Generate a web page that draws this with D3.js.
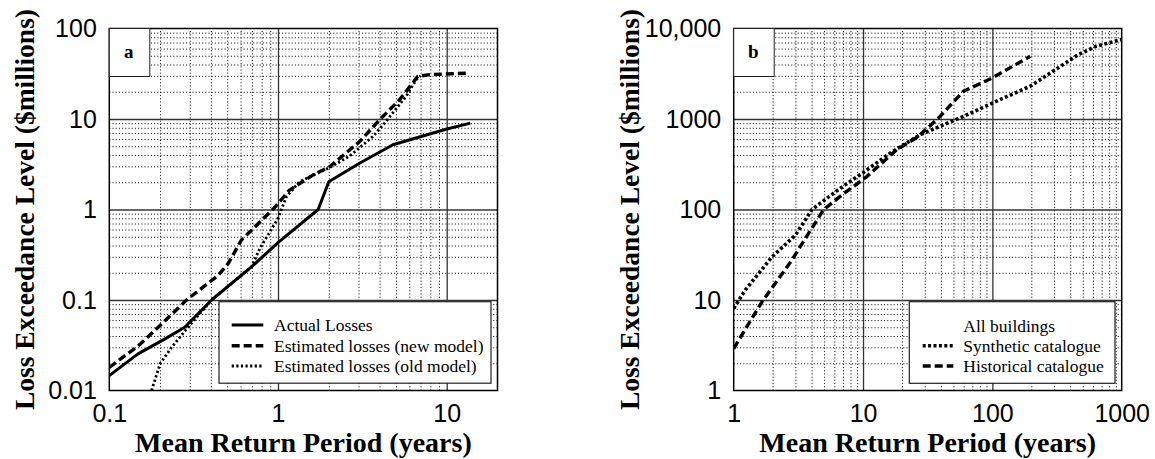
<!DOCTYPE html>
<html>
<head>
<meta charset="utf-8">
<script src="https://cdn.jsdelivr.net/npm/d3@7"></script>
<style>
  body { margin: 0; background: #fff; }
  svg { font-family: "Liberation Serif", "Times New Roman", serif; }
</style>
</head>
<body>
<svg width="1155" height="459"></svg>
<script>
// ---- panel a data (mean return period in years, loss in $ millions)
const actualLosses = [[0.1, 0.0146], [0.148, 0.0254], [0.214, 0.0372], [0.28, 0.05], [0.404, 0.1],
  [0.696, 0.232], [1.0, 0.43], [1.73, 1.0], [2.0, 2.03], [3.04, 3.24], [4.8, 5.2], [9.9, 7.7], [13.8, 9.0]];
const newModelLosses = [[0.1, 0.018], [0.148, 0.031], [0.195, 0.05], [0.287, 0.1], [0.442, 0.187],
  [0.506, 0.252], [0.607, 0.46], [0.955, 1.05], [1.17, 1.64], [1.61, 2.4], [2.02, 2.97], [3.04, 5.6],
  [4.0, 9.8], [5.25, 16.3], [6.74, 29.6], [7.9, 30.9], [13.6, 32.2]];
const oldModelLosses = [[0.178, 0.01], [0.2, 0.0197], [0.234, 0.03], [0.293, 0.05], [0.404, 0.1],
  [0.696, 0.232], [0.78, 0.37], [1.0, 0.8], [1.12, 1.38], [1.34, 2.03], [2.02, 2.9], [2.66, 3.9],
  [3.65, 6.4], [4.28, 9.0], [5.75, 17.8], [6.59, 27.2], [7.0, 30]];

// ---- panel b data
const syntheticCatalogue = [[1, 8.07], [1.23, 12.9], [1.98, 30], [3.0, 52], [4.03, 100], [6.68, 172],
  [10, 255], [16.2, 420], [27.6, 670], [59.7, 1069], [100, 1500], [196, 2300], [462, 5150],
  [635, 6370], [1000, 7550]];
const historicalCatalogue = [[1, 2.91], [1.65, 9.5], [2.82, 27.7], [3.8, 54.7], [4.97, 100], [6.88, 145],
  [10.7, 231], [18.2, 457], [26.8, 641], [39.4, 1069], [59.7, 2023], [100, 2844], [196, 4930]];

// ---- ticks
const xTicksA = [0.1, 1, 10];
const yTicksA = [0.01, 0.1, 1, 10, 100];
const yLabelsA = ["0.01", "0.1", "1", "10", "100"];
const xTicksB = [1, 10, 100, 1000];
const yTicksB = [1, 10, 100, 1000, 10000];
const yLabelsB = ["1", "10", "100", "1000", "10,000"];

const legendNamesA = ["Actual Losses", "Estimated losses (new model)", "Estimated losses (old model)"];
const legendNamesB = ["Synthetic catalogue", "Historical catalogue"];

const svg = d3.select("svg");

const plotTop = 28.5, plotBottom = 390.5;

const xA = d3.scaleLog().domain([0.1, 20]).range([109.3, 497.5]);
const yA = d3.scaleLog().domain([0.01, 100]).range([plotBottom, plotTop]);
const xB = d3.scaleLog().domain([1, 1000]).range([733.7, 1121.7]);
const yB = d3.scaleLog().domain([1, 10000]).range([plotBottom, plotTop]);

const solid = { width: 3, dash: null };
const dashed = { width: 3.4, dash: "8,4" };
const dottedA = { width: 2.8, dash: "2.2,2.4" };
const dottedB = { width: 3.6, dash: "3,2.4" };

// minor values 2..9 of each decade inside the domain
function minorTicks(scale) {
  const [lo, hi] = scale.domain();
  let out = [];
  for (let p = Math.floor(Math.log10(lo)); p <= Math.ceil(Math.log10(hi)); p++) {
    for (let m = 2; m <= 9; m++) {
      const v = m * Math.pow(10, p);
      if (v > lo * 1.0001 && v < hi * 0.9999) out.push(v);
    }
  }
  return out;
}
function majorTicks(scale) {
  const [lo, hi] = scale.domain();
  let out = [];
  for (let p = Math.ceil(Math.log10(lo)); p <= Math.floor(Math.log10(hi)); p++) {
    const v = Math.pow(10, p);
    if (v > lo * 1.0001 && v < hi * 0.9999) out.push(v);
  }
  return out;
}

function drawPanel(cfg) {
  const x = cfg.x, y = cfg.y;
  const x0 = x.range()[0], x1 = x.range()[1];
  const w = x1 - x0, h = plotBottom - plotTop;
  const g = svg.append("g");

  // minor grid
  g.append("g")
    .attr("transform", "translate(0," + plotBottom + ")")
    .call(d3.axisBottom(x).tickValues(minorTicks(x)).tickSize(-h).tickFormat(""))
    .call(s => s.select(".domain").remove())
    .selectAll("line")
    .attr("stroke", "#000").attr("stroke-width", 1).attr("stroke-dasharray", "1,2.2");
  g.append("g")
    .attr("transform", "translate(" + x0 + ",0)")
    .call(d3.axisLeft(y).tickValues(minorTicks(y)).tickSize(-w).tickFormat(""))
    .call(s => s.select(".domain").remove())
    .selectAll("line")
    .attr("stroke", "#000").attr("stroke-width", 1).attr("stroke-dasharray", "1,2.2");

  // major grid
  g.append("g")
    .attr("transform", "translate(0," + plotBottom + ")")
    .call(d3.axisBottom(x).tickValues(majorTicks(x)).tickSize(-h).tickFormat(""))
    .call(s => s.select(".domain").remove())
    .selectAll("line").attr("stroke", "#333").attr("stroke-width", 1.3);
  g.append("g")
    .attr("transform", "translate(" + x0 + ",0)")
    .call(d3.axisLeft(y).tickValues(majorTicks(y)).tickSize(-w).tickFormat(""))
    .call(s => s.select(".domain").remove())
    .selectAll("line").attr("stroke", "#333").attr("stroke-width", 1.3);

  // tick labels
  g.append("g")
    .attr("transform", "translate(0," + plotBottom + ")")
    .call(d3.axisBottom(x).tickValues(cfg.xTicks).tickSize(0).tickPadding(14)
      .tickFormat(d3.format("~g")))
    .call(s => s.select(".domain").remove())
    .selectAll("text").attr("font-size", 25).attr("font-family", null).attr("fill", "#000");
  g.append("g")
    .attr("transform", "translate(" + x0 + ",0)")
    .call(d3.axisLeft(y).tickValues(cfg.yTicks).tickSize(0).tickPadding(12.5)
      .tickFormat((d, i) => cfg.yLabels[i]))
    .call(s => s.select(".domain").remove())
    .selectAll("text").attr("font-size", 25).attr("font-family", null).attr("fill", "#000");

  // curves
  const clipId = "clip" + cfg.label;
  svg.append("clipPath").attr("id", clipId)
    .append("rect").attr("x", x0).attr("y", plotTop).attr("width", w).attr("height", h);
  const line = d3.line().x(d => x(d[0])).y(d => y(d[1]));
  g.append("g").attr("clip-path", "url(#" + clipId + ")")
    .selectAll("path")
    .data(cfg.series)
    .enter()
    .append("path")
    .attr("d", d => line(d.values))
    .attr("fill", "none")
    .attr("stroke", "#000")
    .attr("stroke-width", d => d.style.width)
    .attr("stroke-dasharray", d => d.style.dash)
    .attr("stroke-linejoin", "round");

  // frame
  g.append("rect")
    .attr("x", x0).attr("y", plotTop).attr("width", w).attr("height", h)
    .attr("fill", "none").attr("stroke", "#000").attr("stroke-width", 1.5);

  // panel letter box
  g.append("rect")
    .attr("x", x0).attr("y", plotTop).attr("width", 40.5).attr("height", 48)
    .attr("fill", "#fff").attr("stroke", "#222").attr("stroke-width", 1);
  g.append("text")
    .attr("x", x0 + 19.5).attr("y", plotTop + 29)
    .attr("text-anchor", "middle")
    .attr("font-weight", "bold").attr("font-size", 19)
    .text(cfg.label);

  // legend
  const lg = cfg.legend;
  g.append("rect")
    .attr("x", lg.x).attr("y", lg.y).attr("width", lg.w).attr("height", lg.h)
    .attr("fill", "#fff").attr("stroke", "#222").attr("stroke-width", 1.2);
  const rows = g.append("g").selectAll("g")
    .data(lg.rows)
    .enter()
    .append("g")
    .attr("transform", d => "translate(0," + d.y + ")");
  rows.filter(d => d.style)
    .append("line")
    .attr("x1", lg.sx0).attr("x2", lg.sx1)
    .attr("stroke", "#000")
    .attr("stroke-width", d => d.style.width)
    .attr("stroke-dasharray", d => d.style.dash);
  rows.append("text")
    .attr("x", lg.tx).attr("dy", "0.35em")
    .attr("font-size", 17.5)
    .text(d => d.name);

  // axis titles
  g.append("text")
    .attr("x", (x0 + x1) / 2).attr("y", 452)
    .attr("text-anchor", "middle")
    .attr("font-weight", "bold").attr("font-size", 28)
    .text("Mean Return Period (years)");
  g.append("text")
    .attr("transform", "translate(" + cfg.titleX + "," + (plotTop + plotBottom) / 2 + ") rotate(-90)")
    .attr("text-anchor", "middle").attr("dy", "0.35em")
    .attr("font-weight", "bold").attr("font-size", 27.5)
    .text("Loss Exceedance Level ($millions)");
}

drawPanel({
  label: "a",
  x: xA, y: yA,
  xTicks: xTicksA, yTicks: yTicksA, yLabels: yLabelsA,
  titleX: 24,
  series: [
    { values: actualLosses, style: solid },
    { values: newModelLosses, style: dashed },
    { values: oldModelLosses, style: dottedA }
  ],
  legend: {
    x: 219, y: 301.7, w: 272, h: 81.5, sx0: 231.7, sx1: 263.3, tx: 274,
    rows: [
      { name: legendNamesA[0], y: 325, style: solid },
      { name: legendNamesA[1], y: 345.7, style: dashed },
      { name: legendNamesA[2], y: 366, style: dottedA }
    ]
  }
});

drawPanel({
  label: "b",
  x: xB, y: yB,
  xTicks: xTicksB, yTicks: yTicksB, yLabels: yLabelsB,
  titleX: 629,
  series: [
    { values: syntheticCatalogue, style: dottedB },
    { values: historicalCatalogue, style: dashed }
  ],
  legend: {
    x: 909.3, y: 301.7, w: 205.7, h: 81.6, sx0: 922.7, sx1: 953.3, tx: 963.3,
    rows: [
      { name: "All buildings", y: 326, style: null },
      { name: legendNamesB[0], y: 345.7, style: dottedB },
      { name: legendNamesB[1], y: 366, style: dashed }
    ]
  }
});
</script>
</body>
</html>
